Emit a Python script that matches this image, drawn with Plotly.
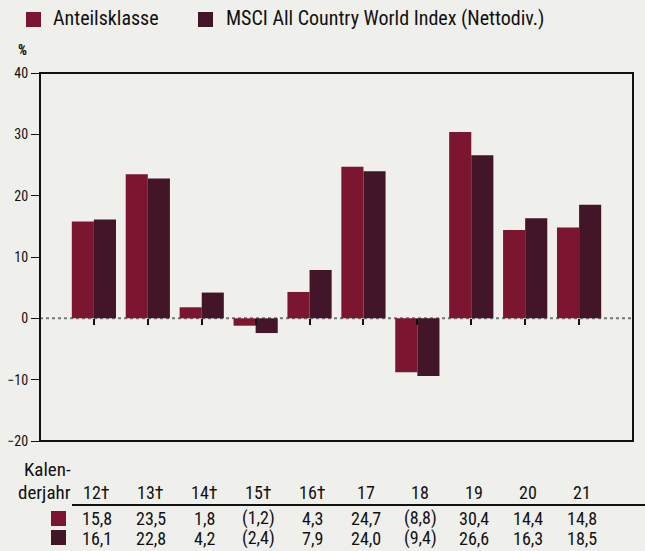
import plotly.graph_objects as go

categories = ["12†", "13†", "14†", "15†", "16†", "17", "18", "19", "20", "21"]
fund_name = "Anteilsklasse"
index_name = "MSCI All Country World Index (Nettodiv.)"
fund_values = [15.8, 23.5, 1.8, -1.2, 4.3, 24.7, -8.8, 30.4, 14.4, 14.8]
index_values = [16.1, 22.8, 4.2, -2.4, 7.9, 24.0, -9.4, 26.6, 16.3, 18.5]
y_ticks = [-20, -10, 0, 10, 20, 30, 40]

FUND_COLOR = "#7C1530"
INDEX_COLOR = "#421628"
BG = "#EFEFEB"
FONT = "Roboto Condensed, Liberation Sans Narrow, Arial Narrow, Liberation Sans, sans-serif"

W, H = 645, 551
ML, MR, MT, MB = 40, 12, 73, 110
PW, PH = W - ML - MR, H - MT - MB


def px_x(p):
    return (p - ML) / PW


def px_y(p):
    return (H - MB - p) / PH


def fmt(v):
    s = f"{abs(v):.1f}".replace(".", ",")
    return f"({s})" if v < 0 else s


xs = list(range(len(categories)))

fig = go.Figure()
fig.add_trace(go.Bar(x=xs, y=fund_values, name=fund_name, marker_color=FUND_COLOR,
                     marker_line_width=0, hoverinfo="skip"))
fig.add_trace(go.Bar(x=xs, y=index_values, name=index_name, marker_color=INDEX_COLOR,
                     marker_line_width=0, hoverinfo="skip"))

zero_frac = (0 - y_ticks[0]) / (y_ticks[-1] - y_ticks[0])

fig.update_layout(
    width=W, height=H,
    margin=dict(l=ML, r=MR, t=MT, b=MB, pad=0, autoexpand=False),
    paper_bgcolor=BG, plot_bgcolor=BG,
    font=dict(family=FONT, color="#111111"),
    barmode="group", bargap=0.18, bargroupgap=0,
    showlegend=False,
    xaxis=dict(range=[-1, len(categories)], anchor="free", position=zero_frac,
               showline=False, showgrid=False, zeroline=False, automargin=False,
               tickmode="array", tickvals=xs, showticklabels=False,
               ticks="outside", ticklen=6, tickwidth=1.5, tickcolor="#111111"),
    yaxis=dict(range=[y_ticks[0], y_ticks[-1]], tickvals=y_ticks, showgrid=False,
               zeroline=False, showline=False, ticks="outside", ticklen=8,
               tickwidth=1, tickcolor="#111111", automargin=False,
               tickfont=dict(size=14, family=FONT, color="#111111")),
)

# zero line (dotted)
fig.add_shape(type="line", xref="paper", yref="y", x0=0, x1=1, y0=0, y1=0,
              line=dict(color="#777777", width=2, dash="dot"), layer="below")
# frame
fig.add_shape(type="rect", xref="paper", yref="paper", x0=0, x1=1, y0=0, y1=1,
              line=dict(color="#111111", width=2), layer="above")

# legend (drawn manually)
lf = dict(size=20, family=FONT, color="#111111")
for name, color, sx, tx in [(fund_name, FUND_COLOR, 26, 51), (index_name, INDEX_COLOR, 198, 224)]:
    fig.add_shape(type="rect", xref="paper", yref="paper", x0=px_x(sx), x1=px_x(sx + 15),
                  y0=px_y(12), y1=px_y(27), fillcolor=color, line_width=0)
    fig.add_annotation(text=name, xref="paper", yref="paper", x=px_x(tx), y=px_y(18),
                       xanchor="left", yanchor="middle", showarrow=False, font=lf)

# % label
fig.add_annotation(text="<b>%</b>", xref="paper", yref="paper", x=px_x(22), y=px_y(50),
                   showarrow=False, font=dict(size=14, family=FONT), xanchor="center",
                   yanchor="middle")

# table
tf = dict(size=18, family=FONT, color="#111111")
hf = dict(size=19, family=FONT, color="#111111")
fig.add_annotation(text="Kalen-", xref="paper", yref="paper", x=px_x(73), y=px_y(469),
                   xanchor="right", yanchor="middle", showarrow=False, font=hf)
fig.add_annotation(text="derjahr", xref="paper", yref="paper", x=px_x(73), y=px_y(492),
                   xanchor="right", yanchor="middle", showarrow=False, font=hf)
for i, c in enumerate(categories):
    fig.add_annotation(text=c, xref="x", yref="paper", x=i, y=px_y(492), xshift=3,
                       xanchor="center", yanchor="middle", showarrow=False, font=tf)
    fig.add_annotation(text=fmt(fund_values[i]), xref="x", yref="paper", x=i,
                       y=px_y(518), xshift=3, xanchor="center", yanchor="middle",
                       showarrow=False, font=tf)
    fig.add_annotation(text=fmt(index_values[i]), xref="x", yref="paper", x=i,
                       y=px_y(538), xshift=3, xanchor="center", yanchor="middle",
                       showarrow=False, font=tf)

fig.add_shape(type="line", xref="paper", yref="paper", x0=px_x(72), x1=px_x(645),
              y0=px_y(505), y1=px_y(505), line=dict(color="#111111", width=2))
for color, top in [(FUND_COLOR, 511), (INDEX_COLOR, 530)]:
    fig.add_shape(type="rect", xref="paper", yref="paper", x0=px_x(51), x1=px_x(66),
                  y0=px_y(top), y1=px_y(top + 15), fillcolor=color, line_width=0)

fig.write_html("out.html", config={"displayModeBar": False},
               post_script="document.body.style.margin='0';document.body.style.background='%s';" % BG)
